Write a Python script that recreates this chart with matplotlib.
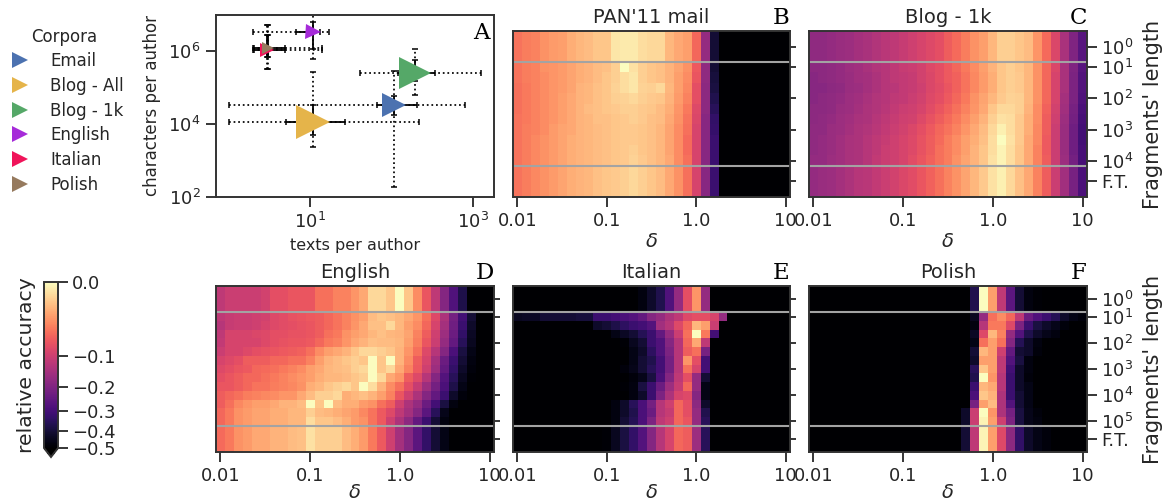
import matplotlib as mpl
mpl.use("Agg")
import matplotlib.pyplot as plt
import numpy as np
from matplotlib.colors import FuncNorm
from matplotlib.lines import Line2D
from matplotlib.ticker import NullLocator

W, H = 1169, 501

plt.rc("font", size=13)
plt.rc("text", color=".15")
plt.rc("axes", edgecolor=".2", labelcolor=".15", linewidth=1.4)
plt.rc("xtick", color=".15", labelsize=13)
plt.rc("ytick", color=".15", labelsize=13)

# Panel A: one entry per corpus
corpora = ["Email", "Blog - All", "Blog - 1k", "English", "Italian", "Polish"]
colors = ["#4c72b0", "#e5b44a", "#55a868", "#a62bd9", "#f0145a", "#967a5e"]
marker_sizes = [17.3, 24.5, 23, 10.8, 9.8, 9]
texts_mid = [108, 10.9, 194, 10.9, 2.95, 3.0]
texts_q1 = [65.6, 4.97, 120, 6.6, 2.0, 2.0]
texts_q3 = [208, 26.7, 343, 13.1, 4.9, 4.9]
texts_min = [0.99, 0.99, 41, 1.95, 1.95, 1.95]
texts_max = [803, 218, 1260, 17.1, 14, 14]
chars_mid = [32300, 11300, 2.5e5, 3.2e6, 1.05e6, 1.17e6]
chars_q1 = [17200, 5000, 1.5e5, 1.1e6, 6.9e5, 6.9e5]
chars_q3 = [58000, 32000, 5.6e5, 6e6, 2.6e6, 2.6e6]
chars_min = [184, 2300, 6e4, 5.9e5, 3.1e5, 3.1e5]
chars_max = [2.85e5, 2.6e5, 1.1e6, 1.2e7, 4.9e6, 4.9e6]

# Heatmaps: height of each cell on the colour bar in percent, 0 = black.
# Short rows are black on the right.
delta_labels = ["0.01", "0.1", "1.0", "10"]
length_labels_top = ["$10^0$", "$10^1$", "$10^2$", "$10^3$", "$10^4$", "F.T."]
length_ticks_top = [1, 3, 6, 9, 12, 14]
length_labels_bottom = ["$10^0$", "$10^1$", "$10^2$", "$10^3$", "$10^4$", "$10^5$", "F.T."]
length_ticks_bottom = [1, 3, 6, 9, 12, 15, 17]

pan_top = [71,73,74,77,79,80,83,85,86,88,88,95,96,96,93,92,92,85,82,80,68,42,10]
pan_bottom = [71,73,75,77,79,81,83,84,85,87,88,89,90,92,90,88,86,82,77,70,58,39,20]
pan_rows = [pan_top] * 3 + [
    [71,73,74,77,78,79,81,83,84,86,87,90,100,94,90,88,87,84,81,77,65,41,10],
    [71,73,74,76,78,79,81,83,84,86,88,90,93,95,90,88,87,84,80,76,64,41,11],
    [70,72,74,76,78,79,81,84,85,87,88,91,93,95,91,90,92,85,80,75,62,40,12],
    [70,72,74,76,78,80,82,84,85,87,88,90,91,92,90,89,88,84,79,74,62,40,14],
    [70,72,74,76,78,80,82,84,86,87,88,89,90,90,89,88,86,83,78,72,60,40,16],
    [71,72,74,76,78,80,82,84,85,87,87,88,89,90,89,87,86,82,77,71,59,39,18],
    [71,73,74,76,79,81,82,84,85,86,87,88,89,89,88,87,85,81,76,70,58,39,19],
    [71,73,75,77,79,81,83,84,85,86,87,88,89,89,88,87,85,81,76,69,58,39,20],
    [71,73,75,77,79,81,83,84,85,86,87,88,89,90,88,87,85,81,76,69,58,39,20],
    [71,73,75,77,79,81,83,84,85,86,87,88,89,91,89,87,85,82,76,70,58,39,20],
] + [pan_bottom] * 3

blog_top = [41,41,42,43,44,46,47,49,51,52,54,56,58,60,62,66,69,73,77,80,85,90,90,88,86,78,69,59,47,37,27]
blog_bottom = [42,43,44,46,48,50,51,53,55,57,59,61,64,67,70,74,77,81,85,89,94,97,92,87,82,74,66,55,45,35,24]
blog_rows = [blog_top] * 3 + [
    [40,40,41,42,44,45,47,49,50,52,54,55,57,60,62,65,68,72,76,80,84,88,90,88,85,77,68,59,47,37,27],
    [39,40,41,42,43,45,46,48,50,52,53,54,57,59,62,65,67,71,75,79,83,88,90,89,85,77,68,58,47,36,26],
    [39,39,40,41,43,44,46,48,50,51,53,54,56,59,61,64,67,71,75,79,83,88,90,89,85,77,68,58,47,36,26],
    [39,40,41,42,44,45,47,49,50,52,53,55,57,60,62,65,68,72,77,81,85,89,91,90,85,77,68,58,46,36,25],
    [40,40,41,43,44,46,48,49,51,53,55,56,58,61,64,67,70,74,78,82,88,92,92,90,84,76,67,57,45,35,24],
    [40,41,42,44,45,47,48,50,52,54,56,57,60,63,66,69,72,76,80,84,90,94,93,89,83,76,66,56,44,34,23],
    [41,41,43,44,46,48,49,51,53,55,57,59,62,65,68,71,74,78,82,86,92,97,93,89,83,75,66,55,43,33,22],
    [41,42,43,45,47,48,50,52,54,56,58,60,63,66,69,73,76,80,83,87,93,100,94,89,82,75,65,55,43,33,22],
    [41,42,43,45,47,48,50,52,55,56,58,60,63,66,70,73,76,80,84,88,93,98,93,88,82,74,65,55,43,33,23],
    [42,42,44,45,47,48,50,53,55,56,58,61,64,67,70,73,77,81,84,88,94,98,93,88,82,74,66,55,44,34,23],
] + [blog_bottom] * 3

english_top = [52,55,55,55,55,57,62,62,64,64,64,70,70,74,74,78,82,92,92,88,100,88,76,64,52,38,25,13]
english_bottom = [69,72,77,79,82,82,84,84,86,87,94,90,90,90,86,83,79,72,65,56,46,38,28,18,10,4]
english_rows = [english_top] * 3 + [
    [52,54,55,55,56,57,60,61,63,64,65,66,68,71,74,77,80,86,88,87,85,82,78,70,60,48,34,22,10],
    [50,54,55,55,56,58,60,61,62,63,64,66,68,71,74,78,82,87,87,92,85,80,76,68,58,46,33,20,8],
    [52,58,58,58,59,60,62,62,63,63,64,66,70,72,77,80,82,85,87,85,84,81,74,66,56,44,32,18,7],
    [53,58,58,58,58,60,62,63,64,64,65,68,72,74,78,82,84,87,86,86,85,80,73,64,55,42,30,16,6],
    [55,58,58,60,62,63,64,65,66,67,70,76,80,82,84,88,92,92,90,88,84,78,70,60,50,38,24,12,4],
    [58,60,62,66,66,66,68,68,70,70,74,80,84,86,88,90,88,100,88,100,84,76,66,58,46,32,20,10,3],
    [60,62,64,65,68,69,70,72,74,76,80,82,85,86,87,90,92,100,88,92,82,74,65,56,44,30,18,8,2],
    [62,64,66,68,68,70,72,74,76,78,80,83,85,85,86,88,90,100,92,82,78,66,60,50,38,26,16,6,1],
    [64,64,66,68,71,71,73,74,75,77,83,85,88,90,92,88,100,93,84,76,70,62,54,44,34,24,13,4],
    [66,68,70,73,74,75,76,78,78,82,86,90,90,92,83,85,87,84,80,74,64,56,48,38,30,20,8,2],
    [66,70,75,78,80,80,82,84,84,86,100,88,100,86,83,83,79,77,70,66,56,48,42,32,22,12,3],
    [68,72,77,79,81,81,83,83,85,85,90,86,85,83,81,79,75,71,65,60,52,46,38,28,16,5],
    [68,72,77,79,81,81,83,83,85,85,93,88,88,86,83,79,77,71,65,56,48,40,30,20,10,3],
] + [english_bottom] * 3

italian_top = [0]*14 + [3,8,14,25,42,62,78,42]
italian_bottom = [0]*10 + [1,6,12,18,26,38,50,58,68,66,44,16]
italian_rows = [italian_top] * 3 + [
    [6,7,7,10,10,10,10,11,11,20,20,22,24,26,30,38,42,48,52,60,62,62,58,42],
    [0]*9 + [8,10,13,17,20,22,26,45,50,60,68,85,80,55],
    [0]*11 + [4,7,10,15,20,30,42,55,70,100,72,22],
    [0]*12 + [1,6,10,20,25,38,50,68,82,52],
    [0]*13 + [4,8,17,25,36,50,66,70,35],
    [0]*13 + [4,10,14,22,34,50,78,62,22],
    [0]*12 + [2,5,10,16,22,34,50,70,58,22],
    [0]*13 + [2,5,12,24,38,52,62,42,10],
    [0]*12 + [1,3,12,20,32,44,54,68,42,4],
    [0]*13 + [3,8,20,36,48,58,60,38,4],
    [0]*11 + [3,8,16,24,34,50,56,68,62,40,8],
    [0]*11 + [3,8,14,24,32,50,54,68,62,42,14],
    [0]*11 + [3,10,15,24,36,52,56,68,64,42,16],
] + [italian_bottom] * 3

polish_top = [0]*18 + [14,100,80,52,28,10,3,1]
polish_bottom = [0]*17 + [10,52,98,80,60,40,18,8,4,2]
polish_rows = [polish_top] * 3 + [
    [0]*18 + [6,42,70,76,68,52,32,25,20,15,8,4,2],
    [0]*18 + [3,50,72,72,60,36,20,12,8,5,2],
    [0]*18 + [7,60,85,74,42,26,14,8,5,3],
    [0]*18 + [4,70,80,70,38,15,8,3],
    [0]*18 + [10,85,80,56,30,10,8,2],
    [0]*18 + [8,80,80,52,26,12,3],
    [0]*18 + [16,88,80,52,22,8,3],
    [0]*18 + [14,100,78,50,20,8,2],
    [0]*18 + [20,85,82,50,20,8,4],
    [0]*18 + [24,88,84,48,20,10,4],
    [0]*18 + [35,80,86,48,26,10,4],
    [0]*17 + [8,55,100,78,48,34,12,5,2],
    [0]*17 + [8,55,98,80,56,36,12,5,3],
] + [polish_bottom] * 3


def to_accuracy(rows):
    # colour bar is a square-root scale down to -0.5
    cells = np.array([r + [0] * (31 - len(r)) for r in rows], dtype=float)
    return -0.5 * (1 - cells / 100) ** 2


norm = FuncNorm((lambda v: 1 - np.sqrt(np.abs(v) / 0.5),
                 lambda p: -0.5 * (1 - p) ** 2), vmin=-0.5, vmax=0)
cmap = plt.get_cmap("magma").copy()
cmap.set_under("black")


def px_axes(fig, left, top, right, bottom):
    return fig.add_axes([left / W, 1 - bottom / H, (right - left) / W, (bottom - top) / H])


def heatmap(ax, rows, title, letter, ticks, lines, labels=None, delta_pad=1):
    im = ax.imshow(to_accuracy(rows), cmap=cmap, norm=norm, aspect="auto", interpolation="nearest")
    ax.axhline(lines[0], color="#a3a3a3", lw=1.5)
    ax.axhline(lines[1], color="#a3a3a3", lw=1.5)
    ax.set_xticks([0, 10, 20, 30], delta_labels)
    ax.set_xlabel(r"$\delta$", fontsize=14, labelpad=delta_pad)
    ax.set_title(title, fontsize=14, pad=6)
    ax.yaxis.tick_right()
    ax.set_yticks(ticks)
    ax.tick_params(axis="x", length=7, width=1.3, pad=4)
    if labels:
        ax.set_yticklabels(labels)
        ax.tick_params(axis="y", length=7, width=1.3, pad=3)
        ax.yaxis.set_label_position("right")
        ax.set_ylabel("Fragments' length", fontsize=15, labelpad=7)
    else:
        ax.set_yticklabels([])
        ax.tick_params(axis="y", length=4, width=1.3)
    ax.text(1.0, 1.01, letter, transform=ax.transAxes, ha="right", va="bottom",
            family="DejaVu Serif", fontsize=16.5, color="black")
    return im


fig = plt.figure(figsize=(W / 100, H / 100), dpi=100)

# Panel A
ax_a = px_axes(fig, 216, 15, 494, 197)
for i in range(len(corpora)):
    x, y = texts_mid[i], chars_mid[i]
    outer = ax_a.errorbar(x, y, xerr=[[x - texts_min[i]], [texts_max[i] - x]],
                          yerr=[[y - chars_min[i]], [chars_max[i] - y]],
                          fmt="none", ecolor="black", elinewidth=1.25, capsize=2, capthick=1.1)
    for bars in outer[2]:
        bars.set_linestyle(":")
    ax_a.errorbar(x, y, xerr=[[x - texts_q1[i]], [texts_q3[i] - x]],
                  yerr=[[y - chars_q1[i]], [chars_q3[i] - y]],
                  fmt="none", ecolor="black", elinewidth=1.3, capsize=2, capthick=1.1)
for i in range(len(corpora)):
    ax_a.plot(texts_mid[i], chars_mid[i], ">", color=colors[i], ms=marker_sizes[i], mew=0, zorder=5)
ax_a.set_xscale("log")
ax_a.set_yscale("log")
ax_a.set_xlim(0.69, 1829)
ax_a.set_ylim(100, 9.4e6)
ax_a.set_xticks([10, 1000])
ax_a.set_yticks([1e2, 1e4, 1e6])
ax_a.xaxis.set_minor_locator(NullLocator())
ax_a.yaxis.set_minor_locator(NullLocator())
ax_a.tick_params(length=7, width=1.3, pad=4)
ax_a.set_xlabel("texts per author", fontsize=11.5, labelpad=4)
ax_a.set_ylabel("characters per author", fontsize=12, labelpad=5)
ax_a.text(0.985, 0.96, "A", transform=ax_a.transAxes, ha="right", va="top",
          family="DejaVu Serif", fontsize=16.5, color="black")

handles = [Line2D([], [], ls="", marker=">", color=c, ms=11, mew=0) for c in colors]
fig.legend(handles, corpora, title="Corpora", loc="upper left", bbox_to_anchor=(-8 / W, 1 - 16 / H),
           frameon=False, fontsize=12, title_fontsize=12, labelspacing=0.4,
           handletextpad=0.8, borderpad=0.2)

# Heatmaps
top_lines = (2.5, 12.5)
bottom_lines = (2.5, 15.5)
ax_b = px_axes(fig, 513, 31, 790, 197)
im = heatmap(ax_b, pan_rows, "PAN'11 mail", "B", length_ticks_top, top_lines)
ax_c = px_axes(fig, 809, 31, 1087, 197)
heatmap(ax_c, blog_rows, "Blog - 1k", "C", length_ticks_top, top_lines, length_labels_top)
ax_d = px_axes(fig, 216, 286, 494, 452)
heatmap(ax_d, english_rows, "English", "D", length_ticks_bottom, bottom_lines, delta_pad=-2)
ax_e = px_axes(fig, 513, 286, 790, 452)
heatmap(ax_e, italian_rows, "Italian", "E", length_ticks_bottom, bottom_lines, delta_pad=-2)
ax_f = px_axes(fig, 809, 286, 1087, 452)
heatmap(ax_f, polish_rows, "Polish", "F", length_ticks_bottom, bottom_lines, length_labels_bottom, delta_pad=-2)

# Colour bar
cax = px_axes(fig, 44, 282, 58, 457)
cb = fig.colorbar(im, cax=cax, extend="min", extendfrac=0.054, extendrect=False)
cb.set_ticks([0, -0.1, -0.2, -0.3, -0.4, -0.5])
cb.set_ticklabels(["0.0", "\u22120.1", "\u22120.2", "\u22120.3", "\u22120.4", "\u22120.5"])
cb.minorticks_off()
cb.ax.tick_params(length=7, width=1.3, pad=3, labelsize=13)
cb.outline.set_linewidth(1.4)
cb.ax.yaxis.set_label_position("left")
cb.set_label("relative accuracy", fontsize=14.7, labelpad=6)

fig.savefig("out.png", dpi=100)
